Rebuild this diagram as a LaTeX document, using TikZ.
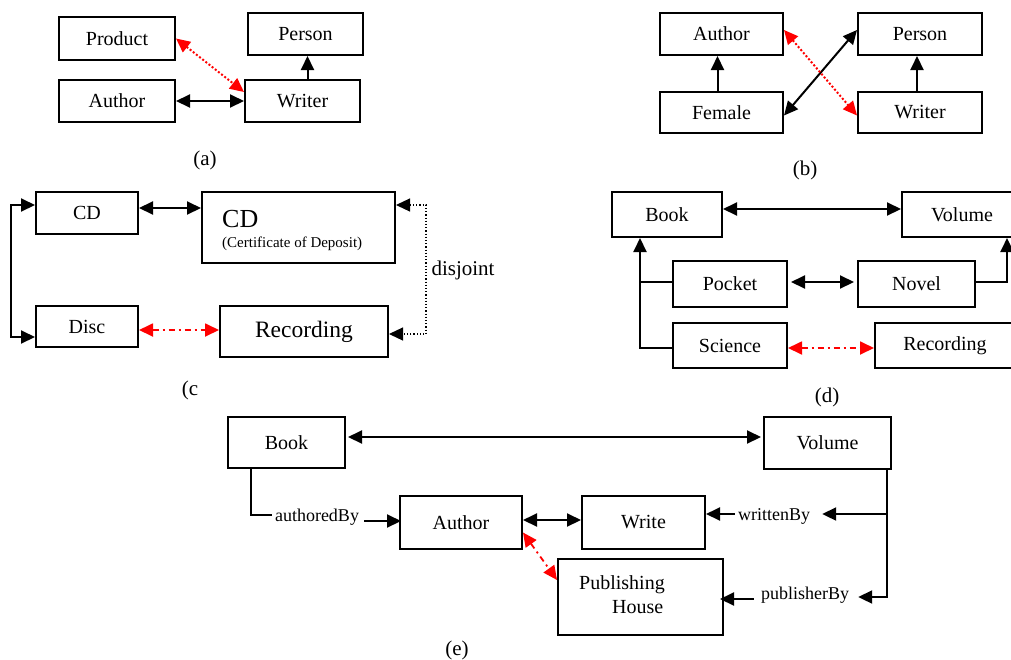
\documentclass[tikz,border=0pt]{standalone}
\usepackage{fontspec}
\setmainfont{Liberation Serif}
\usetikzlibrary{arrows.meta,calc}
\begin{document}
\begin{tikzpicture}[x=1pt,y=-1pt,
  >={Triangle[length=14pt,width=13pt]},
  box/.style={draw, line width=2pt, inner sep=0pt, font=\fontsize{20}{24}\selectfont},
  sz/.style 2 args={minimum width=#1pt, minimum height=#2pt},
  txt/.style={inner sep=0pt, font=\fontsize{20}{24}\selectfont},
  lbl/.style={inner sep=0pt, font=\fontsize{21}{25}\selectfont},
  elbl/.style={inner sep=3pt, font=\fontsize{18}{22}\selectfont},
  con/.style={line width=2pt},
  arr/.style={con,->},
  darr/.style={con,<->},
  rdot/.style={red, line width=2pt, dotted, <->},
  rdd/.style={red, line width=1.8pt, dash pattern=on 6pt off 4pt on 2pt off 4pt, <->},
  ddot/.style={line width=1.2pt, dotted, <->}
]
\clip (0,0) rectangle (1011,659);
\fill[white] (0,0) rectangle (1011,659);

% ---------- (a)
\node[box, sz={116}{43}] (prod) at (117,38.5) {Product};
\node[box, sz={115}{42}] (per1) at (305.5,34) {Person};
\node[box, sz={116}{42}] (auth1) at (117,101) {Author};
\node[box, sz={115}{42}] (wri1) at (302.5,101) {Writer};
\draw[darr] (auth1.east) -- (wri1.west);
\draw[arr] ([xshift=5pt]wri1.north) -- ([xshift=5pt]wri1.north |- per1.south);
\draw[rdot] (prod.east) -- ([yshift=9pt]wri1.west);
\node[lbl] (la) at (205,160) {(a)};

% ---------- (b)
\node[box, sz={123}{42}] (auth2) at (721.5,34) {Author};
\node[box, sz={124}{42}] (per2) at (920,34) {Person};
\node[box, sz={123}{41}] (fem) at (721.5,112.5) {Female};
\node[box, sz={124}{41}] (wri2) at (920,112.5) {Writer};
\draw[arr] ([xshift=-4pt]fem.north) -- ([xshift=-4pt]auth2.south);
\draw[arr] ([xshift=-3pt]wri2.north) -- ([xshift=-3pt]per2.south);
\draw[darr] ([yshift=-3pt]fem.east) -- ([yshift=4pt]per2.west);
\draw[rdot] ([yshift=4pt]auth2.east) -- ([yshift=-3pt]wri2.west);
\node[lbl] (lb) at (805,170) {(b)};

% ---------- (c)
\node[box, sz={102}{42}] (cd) at (87,213) {CD};
\node[box, sz={193}{71}] (cdc) at (298.5,227.5) {};
\node[anchor=base west, inner sep=0pt, font=\fontsize{26}{30}\selectfont] (cdt1) at (222,227) {CD};
\node[anchor=base west, inner sep=0pt, font=\fontsize{15}{18}\selectfont] (cdt2) at (222,247) {(Certificate of Deposit)};
\node[box, sz={102}{41}] (disc) at (87,326.5) {Disc};
\node[box, sz={168}{51}, font=\fontsize{23.5}{28}\selectfont] (rec) at (304,331.5) {Recording};
\draw[darr] ([yshift=5pt]cd.east) -- ([yshift=5pt]cd.east -| cdc.west);
\draw[darr] ([yshift=8pt]cd.west) -- ++(-24,0) |- ([yshift=-10.5pt]disc.west);
\draw[rdd] ([yshift=-3.5pt]disc.east) -- ([yshift=-3.5pt]disc.east -| rec.west);
\draw[ddot] ([yshift=22.5pt]cdc.east) -- ++(30,0) |- ([yshift=-2.5pt]rec.east);
\node[lbl] (dj) at (463,270) {disjoint};
\node[lbl] (lc) at (190,390) {(c};

% ---------- (d)
\node[box, sz={110}{45}] (book) at (667,214.5) {Book};
\node[box, sz={120}{45}] (vol) at (962,214.5) {Volume};
\node[box, sz={114}{46}] (pocket) at (730,284) {Pocket};
\node[box, sz={117}{46}] (novel) at (916.5,284) {Novel};
\node[box, sz={114}{45}] (sci) at (730,345.5) {Science};
\node[box, sz={140}{45}] (rec2) at (945,345.5) {Recording};
\draw[darr] ([yshift=5.5pt]book.east) -- ([yshift=5.5pt]book.east -| vol.west);
\coordinate (dl) at (640,348);
\draw[arr] ([yshift=-2.5pt]sci.west) -- (dl) -- (dl |- book.south);
\draw[con] ([yshift=2pt]pocket.west) -- ([yshift=2pt]pocket.west -| dl);
\draw[darr, shorten >=3pt, shorten <=3pt] ([yshift=2pt]pocket.east) -- ([yshift=2pt]novel.west);
\draw[arr] ([yshift=2pt]novel.east) -| ([xshift=45pt]vol.south);
\draw[rdd] ([yshift=-2.5pt]sci.east) -- ([yshift=-2.5pt]sci.east -| rec2.west);
\node[lbl] (ld) at (827,397) {(d)};

% ---------- (e)
\node[box, sz={117}{51}] (book3) at (286.5,442.5) {Book};
\node[box, sz={127}{52}] (vol3) at (827.5,443) {Volume};
\node[box, sz={122}{53}] (auth3) at (461,522.5) {Author};
\node[box, sz={123}{53}] (write) at (643.5,522.5) {Write};
\node[box, sz={165}{76}] (pub) at (640.5,597) {};
\node[txt, anchor=base west] (pubt1) at (579,589) {Publishing};
\node[txt, anchor=base west] (pubt2) at (612,613) {House};
\draw[darr, shorten >=2pt, shorten <=2pt] ([yshift=5.5pt]book3.east) -- ([yshift=5.5pt]book3.east -| vol3.west);
\node[elbl] (ab) at (317,517) {authoredBy};
\draw[con] ([xshift=-35.5pt]book3.south) |- ([yshift=2pt]ab.west);
\draw[arr] ([yshift=-4pt,xshift=2pt]ab.east) -- ([yshift=-4pt,xshift=2pt]ab.east -| auth3.west);
\draw[darr] ([yshift=2.5pt]auth3.east) -- ([yshift=2.5pt]write.west);
\node[elbl] (wb) at (774,516) {writtenBy};
\draw[arr] ([yshift=2pt]wb.west) -- ([yshift=2pt]wb.west -| write.east);
\node[elbl] (pb) at (805,595) {publisherBy};
\coordinate (vx) at ([xshift=59.5pt]vol3.south);
\draw[arr] (vx) |- ([yshift=-2pt, xshift=6pt]pb.east);
\draw[arr, shorten >=9pt] ($(vx |- wb.east)+(0,-2)$) -- ([yshift=2pt]wb.east);
\draw[arr] ([yshift=-4pt, xshift=-4pt]pb.west) -- ([yshift=-4pt, xshift=-4pt]pb.west -| pub.east);
\draw[rdd] ([yshift=-10pt]auth3.east) -- ([yshift=17pt]pub.west);
\node[lbl] (le) at (457,650) {(e)};
\end{tikzpicture}
\end{document}
